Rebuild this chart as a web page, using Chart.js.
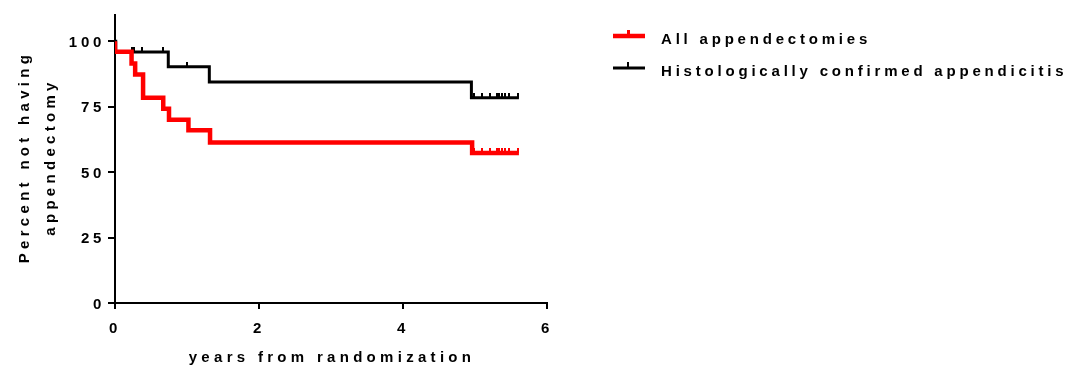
<!DOCTYPE html>
<html>
<head>
<meta charset="utf-8">
<script src="https://cdn.jsdelivr.net/npm/chart.js@4.4.1/dist/chart.umd.min.js"></script>
<style>
  html, body { margin: 0; padding: 0; background: #fff; }
  canvas { display: block; }
</style>
</head>
<body>
<canvas id="km" width="1072" height="367"></canvas>
<script>
// Kaplan-Meier steps
const allTimes = [0, 0, 0.23, 0.28, 0.39, 0.67, 0.75, 1.02, 1.32, 4.96, 5.61];
const allSurv = [100, 96, 91.5, 87.3, 78.4, 74.2, 70, 66, 61.3, 57.3, 57.3];
const histTimes = [0, 0.01, 0.74, 1.31, 4.95, 5.61];
const histSurv = [100, 95.9, 90.2, 84.4, 78.4, 78.4];

// censored observations
const allCensorTimes = [4.99, 5.10, 5.21, 5.31, 5.34, 5.37, 5.41, 5.47, 5.60];
const allCensorSurv = [57.3, 57.3, 57.3, 57.3, 57.3, 57.3, 57.3, 57.3, 57.3];
const histCensorTimes = [0.23, 0.26, 0.38, 0.66, 1.00, 4.99, 5.10, 5.21, 5.31, 5.34, 5.37, 5.41, 5.47, 5.60];
const histCensorSurv = [95.9, 95.9, 95.9, 95.9, 90.2, 78.4, 78.4, 78.4, 78.4, 78.4, 78.4, 78.4, 78.4, 78.4];

const seriesLabels = ['All appendectomies', 'Histologically confirmed appendicitis'];
const seriesColors = ['#ff0000', '#000000'];
const xTicks = [0, 2, 4, 6];
const yTicks = [0, 25, 50, 75, 100];
const xTitle = 'years from randomization';
const yTitle = ['Percent not having', 'appendectomy'];

const FONT = "'Liberation Sans', Arial, sans-serif";

function toPoints(xs, ys) {
    return xs.map((x, i) => ({ x: x, y: ys[i] }));
}

// small upward tick used as the censor mark
function censorMark(color, w) {
    const c = document.createElement('canvas');
    c.width = w;
    c.height = 10;
    const g = c.getContext('2d');
    g.fillStyle = color;
    g.fillRect(0, 0, w, 5);
    return c;
}

// titles and legend, drawn with GraphPad-like letter spacing
const decorPlugin = {
    id: 'decor',
    beforeDraw(chart) {
        chart.ctx.letterSpacing = '3.7px';
    },
    afterDraw(chart) {
        const ctx = chart.ctx;
        const area = chart.chartArea;
        ctx.save();
        ctx.fillStyle = '#000';
        ctx.font = 'bold 15px ' + FONT;
        ctx.letterSpacing = '4.3px';
        ctx.textAlign = 'center';
        ctx.textBaseline = 'alphabetic';
        ctx.fillText(xTitle, (area.left + area.right) / 2 + 1, 362);

        ctx.save();
        ctx.translate(0, (area.top + area.bottom) / 2);
        ctx.rotate(-Math.PI / 2);
        ctx.fillText(yTitle[0], 2, 29);
        ctx.fillText(yTitle[1], 2, 55);
        ctx.restore();

        // legend
        ctx.textAlign = 'left';
        ctx.letterSpacing = '3.8px';
        const rows = [36, 68];
        seriesLabels.forEach((label, i) => {
            const y = rows[i];
            const lw = i === 0 ? 4.5 : 3;
            ctx.fillStyle = seriesColors[i];
            ctx.fillRect(613, y - lw / 2, 32, lw);
            ctx.fillRect(627, y - 6, i === 0 ? 3 : 2, 6);
            ctx.fillStyle = '#000';
            ctx.fillText(label, 661, y + 7.5);
        });
        ctx.restore();
    }
};

const ctx = document.getElementById('km').getContext('2d');
new Chart(ctx, {
    type: 'line',
    data: {
        datasets: [
            {
                label: seriesLabels[0],
                data: toPoints(allTimes, allSurv),
                borderColor: seriesColors[0],
                borderWidth: 4.5,
                stepped: true,
                pointRadius: 0,
                fill: false,
                order: 1
            },
            {
                label: seriesLabels[1],
                data: toPoints(histTimes, histSurv),
                borderColor: seriesColors[1],
                borderWidth: 3,
                stepped: true,
                pointRadius: 0,
                fill: false,
                order: 3
            },
            {
                label: 'censored all',
                data: toPoints(allCensorTimes, allCensorSurv),
                showLine: false,
                pointStyle: censorMark(seriesColors[0], 2.5),
                pointRadius: 5,
                order: 0
            },
            {
                label: 'censored hist',
                data: toPoints(histCensorTimes, histCensorSurv),
                showLine: false,
                pointStyle: censorMark(seriesColors[1], 2),
                pointRadius: 5,
                order: 2
            }
        ]
    },
    options: {
        responsive: false,
        animation: false,
        layout: {
            padding: { top: 15, right: 525, bottom: 0, left: 0 }
        },
        plugins: {
            legend: { display: false },
            tooltip: { enabled: false }
        },
        scales: {
            x: {
                type: 'linear',
                min: 0,
                max: 6,
                afterBuildTicks: s => { s.ticks = xTicks.map(v => ({ value: v })); },
                afterFit: s => { s.height = 64; },
                ticks: {
                    color: '#000',
                    font: { family: FONT, size: 15, weight: 'bold' },
                    padding: 11,
                    maxRotation: 0
                },
                grid: {
                    drawOnChartArea: false,
                    drawTicks: true,
                    tickLength: 6,
                    color: '#000',
                    lineWidth: 2
                },
                border: { display: true, color: '#000', width: 2 }
            },
            y: {
                type: 'linear',
                min: 0,
                max: 110,
                afterBuildTicks: s => { s.ticks = yTicks.map(v => ({ value: v })); },
                afterFit: s => { s.width = 115; },
                ticks: {
                    color: '#000',
                    font: { family: FONT, size: 15, weight: 'bold' },
                    padding: 3,
                    labelOffset: 1.5
                },
                grid: {
                    drawOnChartArea: false,
                    drawTicks: true,
                    tickLength: 7,
                    color: '#000',
                    lineWidth: 2
                },
                border: { display: true, color: '#000', width: 2 }
            }
        }
    },
    plugins: [decorPlugin]
});
</script>
</body>
</html>
